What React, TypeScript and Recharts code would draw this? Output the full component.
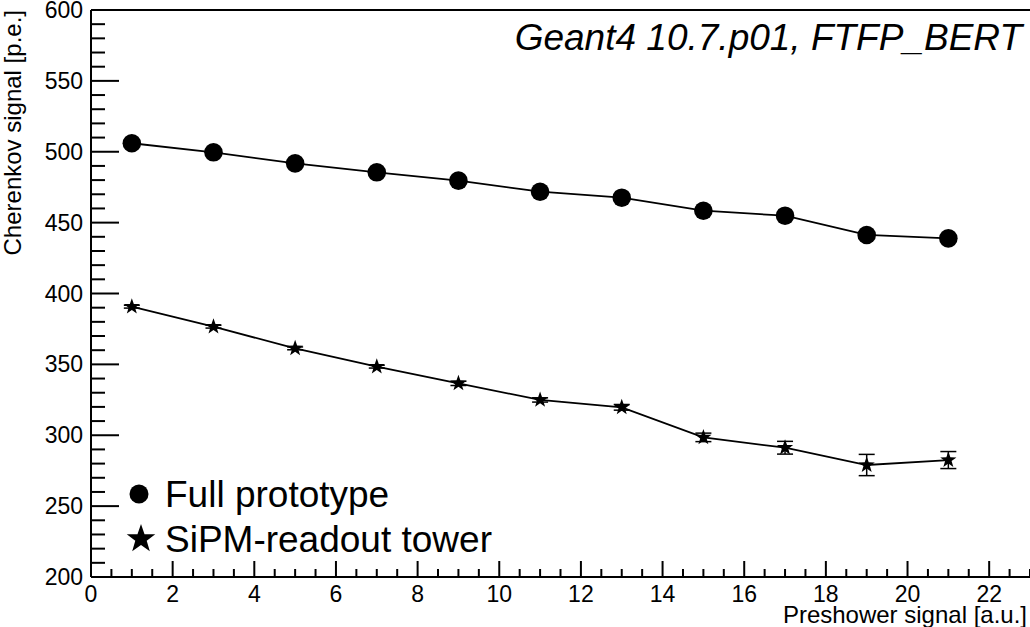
// Cherenkov vs preshower signal - ROOT style scatter with lines

import React from 'react';
import {
  ComposedChart,
  Line,
  XAxis,
  YAxis,
  ReferenceLine,
  ErrorBar,
} from 'recharts';

const preshower = [1, 3, 5, 7, 9, 11, 13, 15, 17, 19, 21];
const fullPrototype = [506, 499.6, 491.8, 485.5, 479.6, 471.8, 467.6, 458.4, 454.9, 441.3, 438.9];
const sipmTower = [390.7, 376.6, 361.3, 348.4, 336.6, 324.9, 319.7, 298.5, 291.2, 279, 282.5];
const sipmTowerErr = [1, 1, 1, 1, 1.5, 1.5, 2, 3, 4.5, 7.5, 6];

const xMajorTicks = [0, 2, 4, 6, 8, 10, 12, 14, 16, 18, 20, 22];
const yMajorTicks = [200, 250, 300, 350, 400, 450, 500, 550, 600];

const X_DOMAIN: [number, number] = [0, 23];
const Y_DOMAIN: [number, number] = [200, 600];

// minor ticks: x every 0.5, y every 10
const xTicks: number[] = [];
for (let v = 0; v <= 23; v += 0.5) xTicks.push(v);
const yTicks: number[] = [];
for (let v = 200; v <= 600; v += 10) yTicks.push(v);

const FONT = '"Liberation Sans", Arial, Helvetica, sans-serif';
const TICK_MARGIN = 8;

const data = preshower.map((x, i) => ({
  x,
  full: fullPrototype[i],
  sipm: sipmTower[i],
  sipmErr: sipmTowerErr[i],
}));

function YTick(props: any) {
  const { x, y, payload } = props;
  const v = payload.value;
  const major = yMajorTicks.includes(v);
  const ax = x + TICK_MARGIN;
  return (
    <g>
      <line x1={ax} x2={ax + (major ? 28 : 14)} y1={y} y2={y} stroke="#000" strokeWidth={2} />
      {major && (
        <text x={x} y={y + 8} textAnchor="end" fontSize={23} fontFamily={FONT} fill="#000">
          {v}
        </text>
      )}
    </g>
  );
}

function XTick(props: any) {
  const { x, y, payload } = props;
  const v = payload.value;
  const major = xMajorTicks.includes(v);
  const ay = y - TICK_MARGIN;
  return (
    <g>
      <line x1={x} x2={x} y1={ay} y2={ay - (major ? 16 : 8)} stroke="#000" strokeWidth={2} />
      {major && (
        <text x={x} y={y + 17} textAnchor="middle" fontSize={23} fontFamily={FONT} fill="#000">
          {v}
        </text>
      )}
    </g>
  );
}

function starPath(cx: number, cy: number, R: number, r: number) {
  let d = '';
  for (let i = 0; i < 10; i++) {
    const rad = i % 2 === 0 ? R : r;
    const a = -Math.PI / 2 + (i * Math.PI) / 5;
    d += (i === 0 ? 'M' : 'L') + (cx + rad * Math.cos(a)).toFixed(2) + ',' + (cy + rad * Math.sin(a)).toFixed(2);
  }
  return d + 'Z';
}

const CircleDot = (props: any) => {
  const { cx, cy, index } = props;
  if (cx == null || cy == null) return <g key={index} />;
  return <circle key={index} cx={cx} cy={cy} r={9.3} fill="#000" />;
};

const StarDot = (props: any) => {
  const { cx, cy, index } = props;
  if (cx == null || cy == null) return <g key={index} />;
  return <path key={index} d={starPath(cx, cy, 8.5, 3.4)} fill="#000" />;
};

export default function App() {
  return (
    <div style={{ position: 'absolute', left: 0, top: 0, width: 1030, height: 627, background: '#fff' }}>
      <ComposedChart
        width={1030}
        height={627}
        data={data}
        margin={{ top: 10, right: 0, bottom: 0, left: 0 }}
      >
        <XAxis
          dataKey="x"
          type="number"
          domain={X_DOMAIN}
          ticks={xTicks}
          interval={0}
          height={50}
          tickSize={0}
          tickMargin={TICK_MARGIN}
          tickLine={false}
          axisLine={{ stroke: '#000', strokeWidth: 2 }}
          tick={<XTick />}
          allowDataOverflow
        />
        <YAxis
          type="number"
          domain={Y_DOMAIN}
          ticks={yTicks}
          interval={0}
          width={91}
          tickSize={0}
          tickMargin={TICK_MARGIN}
          tickLine={false}
          axisLine={{ stroke: '#000', strokeWidth: 2 }}
          tick={<YTick />}
          allowDataOverflow
        />
        <ReferenceLine y={600} stroke="#000" strokeWidth={2} />
        <Line
          dataKey="full"
          type="linear"
          stroke="#000"
          strokeWidth={1.8}
          dot={CircleDot}
          activeDot={false}
          isAnimationActive={false}
        />
        <Line
          dataKey="sipm"
          type="linear"
          stroke="#000"
          strokeWidth={1.8}
          dot={StarDot}
          activeDot={false}
          isAnimationActive={false}
        >
          <ErrorBar dataKey="sipmErr" width={8} stroke="#000" strokeWidth={1.5} direction="y" />
        </Line>
      </ComposedChart>

      <svg
        width={1030}
        height={627}
        style={{ position: 'absolute', left: 0, top: 0, pointerEvents: 'none' }}
      >
        <text x={1022} y={50} textAnchor="end" fontSize={37} fontStyle="italic" fontFamily={FONT} fill="#000">
          Geant4 10.7.p01, FTFP_BERT
        </text>
        <text
          x={21}
          y={10}
          textAnchor="end"
          fontSize={24}
          fontFamily={FONT}
          fill="#000"
          transform="rotate(-90, 21, 10)"
        >
          Cherenkov signal [p.e.]
        </text>
        <text x={1027} y={623} textAnchor="end" fontSize={24} fontFamily={FONT} fill="#000">
          Preshower signal [a.u.]
        </text>
        <circle cx={139} cy={494} r={9.5} fill="#000" />
        <text x={165} y={507} fontSize={37} fontFamily={FONT} fill="#000">
          Full prototype
        </text>
        <path d={starPath(141, 539, 15, 6)} fill="#000" />
        <text x={165} y={552} fontSize={37} fontFamily={FONT} fill="#000">
          SiPM-readout tower
        </text>
      </svg>
    </div>
  );
}
